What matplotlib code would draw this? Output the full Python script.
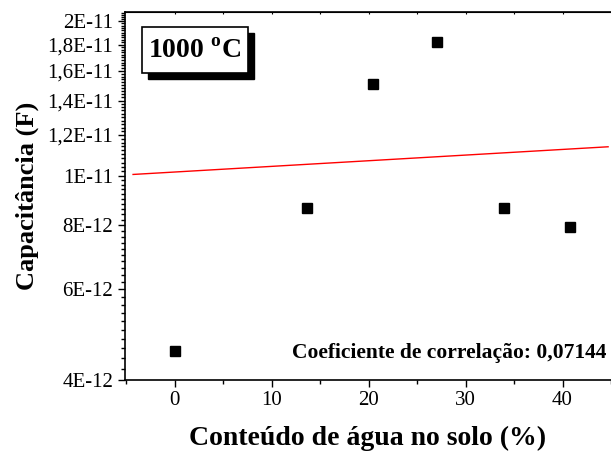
import numpy as np
import matplotlib
matplotlib.use('Agg')
import matplotlib.pyplot as plt
from matplotlib.ticker import FixedLocator, FixedFormatter
from matplotlib.patches import Rectangle

# donnees
agua = [0, 13.6, 20.4, 27.1, 34.0, 40.8]
capacitancia = [4.54e-12, 8.66e-12, 1.506e-11, 1.818e-11, 8.64e-12, 7.95e-12]

# droite de regression (extremites)
fit_x = [-4.3, 44.7]
fit_y = [1.005e-11, 1.138e-11]

y_ticks = [4e-12, 6e-12, 8e-12, 1e-11, 1.2e-11, 1.4e-11, 1.6e-11, 1.8e-11, 2e-11]
y_labels = ['4E-12', '6E-12', '8E-12', '1E-11', '1,2E-11', '1,4E-11',
            '1,6E-11', '1,8E-11', '2E-11']
x_ticks = [0, 10, 20, 30, 40]

plt.rcParams['font.family'] = ['Liberation Serif', 'DejaVu Serif']
plt.rcParams['mathtext.fontset'] = 'custom'
plt.rcParams['mathtext.rm'] = 'Liberation Serif'
plt.rcParams['mathtext.bf'] = 'Liberation Serif:bold'

fig = plt.figure(figsize=(6.11, 4.54), dpi=100)
ax = fig.add_axes([0.2046, 0.164, 0.7954, 0.8096])

ax.plot(fit_x, fit_y, color='red', lw=1.0)
ax.plot(agua, capacitancia, 's', color='black', ms=6.5, ls='none')

ax.set_yscale('log')
ax.set_xlim(-5.13, 44.72)
ax.set_ylim(4e-12, 2.085e-11)

ax.yaxis.set_major_locator(FixedLocator(y_ticks))
ax.yaxis.set_major_formatter(FixedFormatter(y_labels))
ax.yaxis.set_minor_locator(FixedLocator(np.arange(4.0, 21.0, 0.2) * 1e-12))
ax.yaxis.set_minor_formatter(FixedFormatter([]))
ax.set_xticks(x_ticks)
ax.set_xticks([-5, 5, 15, 25, 35, 45], minor=True)

ax.tick_params(axis='both', which='major', labelsize=15, length=5, width=1, direction='out')
ax.tick_params(axis='both', which='minor', length=3, width=1, direction='out')
ax.spines['right'].set_visible(False)
for s in ['left', 'bottom', 'top']:
    ax.spines[s].set_linewidth(1.2)

# ticks du haut tres courts vers l'interieur
ax2 = ax.secondary_xaxis('top')
ax2.set_xticks(x_ticks + [5, 15, 25, 35])
ax2.tick_params(length=1.5, direction='in', labeltop=False, width=0.8)

ax.set_xlabel('Conteúdo de água no solo (%)', fontsize=20, fontweight='bold', labelpad=11)
ax.set_ylabel('Capacitância (F)', fontsize=19, fontweight='bold', labelpad=6)

# boite 1000 oC avec ombre
shadow = Rectangle((148 / 611, 1 - 79 / 454), 106 / 611, 46 / 454,
                   transform=fig.transFigure, facecolor='black', edgecolor='black', zorder=3)
box = Rectangle((142 / 611, 1 - 73 / 454), 106 / 611, 46 / 454,
                transform=fig.transFigure, facecolor='white', edgecolor='black', lw=1.2, zorder=4)
fig.patches.extend([shadow, box])
fig.text(195 / 611, 1 - 52 / 454, r'1000 $^{\mathbf{o}}$C', fontsize=20, fontweight='bold',
         ha='center', va='center', zorder=5)

ax.text(0.99, 0.045, 'Coeficiente de correlação: 0,07144', transform=ax.transAxes,
        fontsize=15.5, fontweight='bold', ha='right', va='bottom')

fig.savefig('out.png', dpi=100)
